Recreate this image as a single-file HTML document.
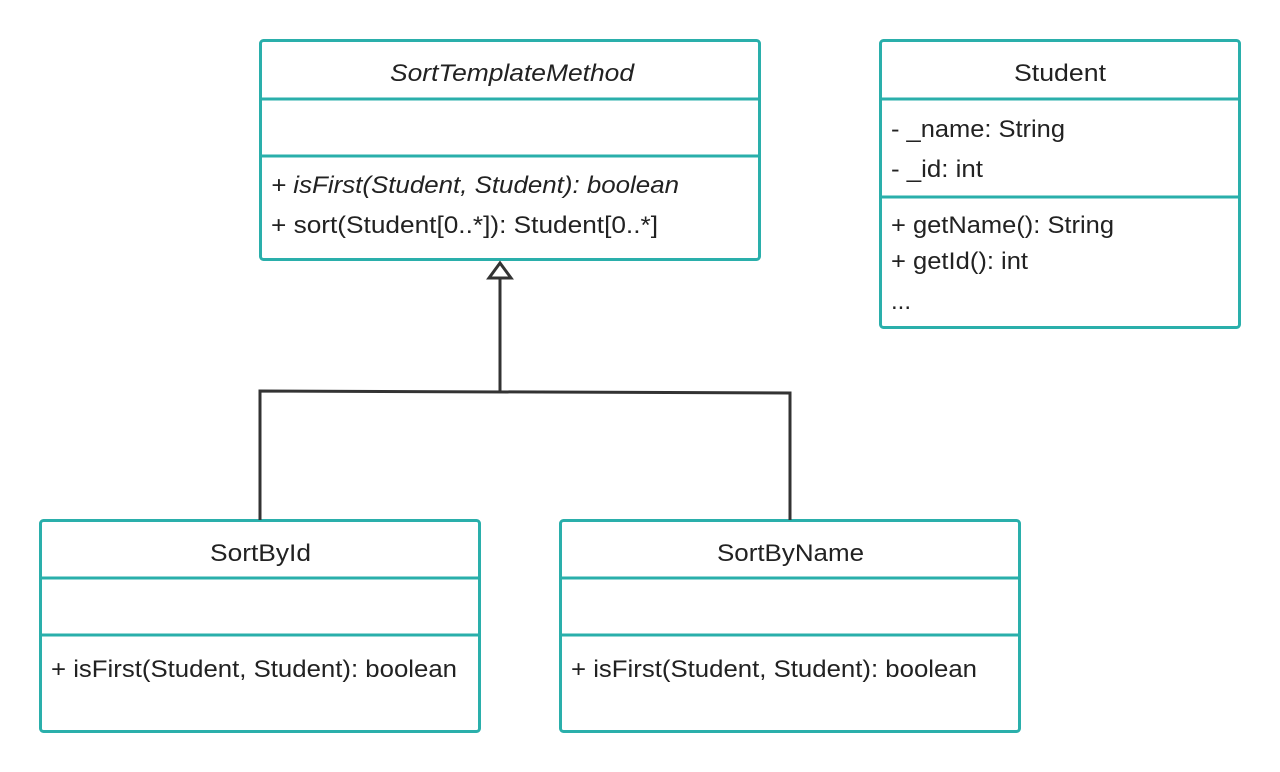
<!DOCTYPE html>
<html><head><meta charset="utf-8"><style>
html,body{margin:0;padding:0;background:#fff;}
svg{display:block;}
text{font-family:"Liberation Sans",sans-serif;font-size:24px;fill:#222;}
.i{font-style:italic;}
</style></head><body>
<svg width="1280" height="772" viewBox="0 0 1280 772">
<g fill="#fff" stroke="#2aafab" stroke-width="3">
<rect x="260.5" y="40.5" width="499" height="219" rx="3"/>
<line x1="260" y1="99" x2="760" y2="99"/><line x1="260" y1="156" x2="760" y2="156"/>
<rect x="880.5" y="40.5" width="359" height="287" rx="3"/>
<line x1="880" y1="99" x2="1240" y2="99"/><line x1="880" y1="197" x2="1240" y2="197"/>
<rect x="40.5" y="520.5" width="439" height="211" rx="3"/>
<line x1="40" y1="578" x2="480" y2="578"/><line x1="40" y1="635" x2="480" y2="635"/>
<rect x="560.5" y="520.5" width="459" height="211" rx="3"/>
<line x1="560" y1="578" x2="1020" y2="578"/><line x1="560" y1="635" x2="1020" y2="635"/>
</g>
<g fill="none" stroke="#333" stroke-width="3">
<polyline points="260,520 260,391 790,393 790,520"/>
<line x1="500" y1="278" x2="500" y2="392"/>
<polygon points="500,263 489,278 511,278" fill="#fff"/>
</g>
<text x="390" y="81" class="i" textLength="244" lengthAdjust="spacingAndGlyphs">SortTemplateMethod</text>
<text x="271" y="193" class="i" textLength="408" lengthAdjust="spacingAndGlyphs">+ isFirst(Student, Student): boolean</text>
<text x="271" y="233" textLength="387" lengthAdjust="spacingAndGlyphs">+ sort(Student[0..*]): Student[0..*]</text>
<text x="1014" y="81" textLength="92" lengthAdjust="spacingAndGlyphs">Student</text>
<text x="891" y="137" textLength="174" lengthAdjust="spacingAndGlyphs">- _name: String</text>
<text x="891" y="177" textLength="92" lengthAdjust="spacingAndGlyphs">- _id: int</text>
<text x="891" y="233" textLength="223" lengthAdjust="spacingAndGlyphs">+ getName(): String</text>
<text x="891" y="269" textLength="137" lengthAdjust="spacingAndGlyphs">+ getId(): int</text>
<text x="891" y="309">...</text>
<text x="210" y="561" textLength="101" lengthAdjust="spacingAndGlyphs">SortById</text>
<text x="51" y="677" textLength="406" lengthAdjust="spacingAndGlyphs">+ isFirst(Student, Student): boolean</text>
<text x="717" y="561" textLength="147" lengthAdjust="spacingAndGlyphs">SortByName</text>
<text x="571" y="677" textLength="406" lengthAdjust="spacingAndGlyphs">+ isFirst(Student, Student): boolean</text>
</svg>
</body></html>
